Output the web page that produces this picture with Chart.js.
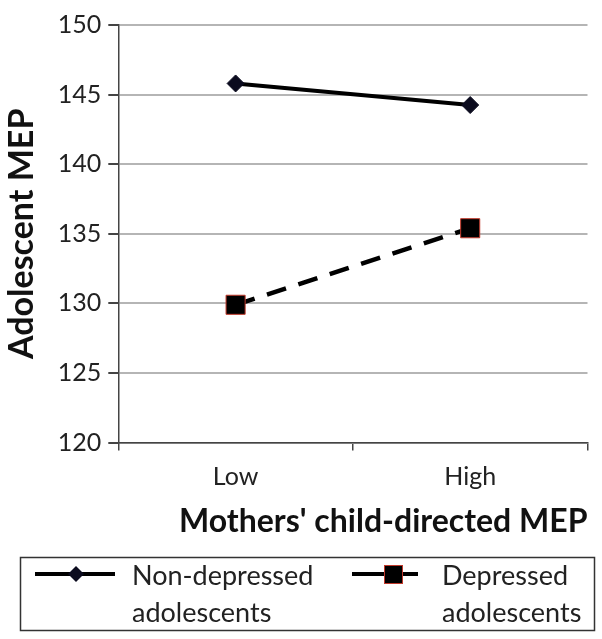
<!DOCTYPE html>
<html>
<head>
<meta charset="utf-8">
<script src="https://cdn.jsdelivr.net/npm/chart.js@4.4.1/dist/chart.umd.min.js"></script>
<style>
  html, body { margin: 0; padding: 0; background: #fff; }
  #wrap { width: 602px; height: 639px; position: relative; }
</style>
</head>
<body>
<div id="wrap"><canvas id="myChart" width="602" height="639"></canvas></div>
<script>
// categories + series
const categories = ['Low', 'High'];
const nonDepressed = [145.8, 144.25];
const depressed = [129.9, 135.4];
const seriesNames = [['Non-depressed', 'adolescents'], ['Depressed', 'adolescents']];
const yTicks = [120, 125, 130, 135, 140, 145, 150];

const FONT = 'Lato, "Open Sans", sans-serif';

// legend box at the bottom, drawn by hand so the labels can wrap
const boxLegend = {
  id: 'boxLegend',
  afterDraw(chart) {
    const ctx = chart.ctx;
    ctx.save();
    ctx.strokeStyle = '#333';
    ctx.lineWidth = 1.5;
    ctx.strokeRect(20.5, 557.5, 574, 73);

    // item 1
    ctx.strokeStyle = '#000';
    ctx.lineWidth = 4;
    ctx.beginPath(); ctx.moveTo(35, 574); ctx.lineTo(115, 574); ctx.stroke();
    ctx.fillStyle = '#0b0b1e';
    ctx.beginPath();
    ctx.moveTo(76, 566); ctx.lineTo(84, 574); ctx.lineTo(76, 582); ctx.lineTo(68, 574);
    ctx.closePath(); ctx.fill();

    // item 2
    ctx.beginPath(); ctx.moveTo(352, 574); ctx.lineTo(418, 574); ctx.stroke();
    ctx.fillStyle = '#000';
    ctx.fillRect(384, 565, 19, 19);
    ctx.strokeStyle = '#c0392b';
    ctx.lineWidth = 1;
    ctx.strokeRect(384.5, 565.5, 18, 18);

    ctx.fillStyle = '#222';
    ctx.font = '27px ' + FONT;
    ctx.textBaseline = 'middle';
    ctx.fillText(seriesNames[0][0], 132, 576);
    ctx.fillText(seriesNames[0][1], 132, 613);
    ctx.fillText(seriesNames[1][0], 442, 576);
    ctx.fillText(seriesNames[1][1], 442, 613);
    ctx.restore();
  }
};

new Chart(document.getElementById('myChart'), {
  type: 'line',
  data: {
    labels: categories,
    datasets: [
      {
        label: seriesNames[0].join(' '),
        data: nonDepressed,
        borderColor: '#000',
        borderWidth: 4,
        pointStyle: 'rectRot',
        pointRadius: 8.5,
        pointBackgroundColor: '#0b0b1e',
        pointBorderColor: '#0b0b1e',
        pointBorderWidth: 1,
        tension: 0
      },
      {
        label: seriesNames[1].join(' '),
        data: depressed,
        borderColor: '#000',
        borderWidth: 4.5,
        borderDash: [20, 13],
        pointStyle: 'rect',
        pointRadius: 13.5,
        pointBackgroundColor: '#000',
        pointBorderColor: '#c0392b',
        pointBorderWidth: 1,
        tension: 0
      }
    ]
  },
  options: {
    responsive: false,
    animation: false,
    layout: { padding: { top: 25, right: 14, left: 0, bottom: 94 } },
    plugins: { legend: { display: false }, tooltip: { enabled: false } },
    scales: {
      x: {
        offset: true,
        grid: { display: true, drawOnChartArea: false, offset: true, tickColor: '#444', tickLength: 8, lineWidth: 1.5 },
        border: { color: '#444', width: 1.5 },
        ticks: { color: '#222', font: { family: FONT, size: 25 }, padding: 11 },
        title: { display: true, text: "Mothers' child-directed MEP", align: 'end', color: '#111',
                 font: { family: FONT, size: 32, weight: 'bold' }, padding: { top: 0 } }
      },
      y: {
        min: 120,
        max: 150,
        afterBuildTicks(scale) { scale.ticks = yTicks.map(v => ({ value: v })); },
        grid: { color: '#b5b5b5', lineWidth: 2, tickColor: '#444', tickLength: 10 },
        border: { color: '#444', width: 1.5 },
        ticks: { color: '#222', font: { family: FONT, size: 25 }, padding: 7 },
        title: { display: true, text: 'Adolescent MEP', color: '#111',
                 font: { family: FONT, size: 34, weight: 'bold' }, padding: { top: 2, bottom: 8 } }
      }
    }
  },
  plugins: [boxLegend]
});
</script>
</body>
</html>
